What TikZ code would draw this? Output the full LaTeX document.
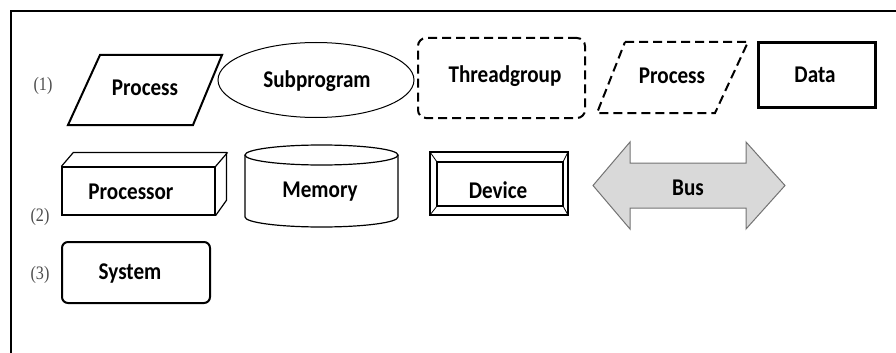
\documentclass[tikz,border=0pt]{standalone}
\usepackage{fontspec}
\setmainfont{Carlito}[FakeStretch=0.88]
\newfontfamily\rowfont{Liberation Serif}[FakeStretch=0.85]
\usetikzlibrary{shapes.geometric}

\begin{document}
\begin{tikzpicture}[x=1pt, y=-1pt,
  shape text/.style={font=\fontsize{24}{24}\selectfont\bfseries, inner sep=0pt},
  row label/.style={font=\fontsize{19}{19}\selectfont\rowfont, text=black!70},
  solid box/.style={draw, line width=2pt},
  dash box/.style={draw, line width=2pt, dash pattern=on 9pt off 5pt}]

  \useasboundingbox (0,0) rectangle (896,353);
  % frame
  \draw[line width=1.5pt] (11,353) -- (11,11) -- (896,11);

  % row 1
  \node[row label] (r1) at (43,86) {(1)};
  \draw[solid box, line join=miter] (100,55) -- (222,55) -- (193,125) -- (68,125) -- cycle;
  \node[shape text] (proc) at (145,88) {Process};
  \node[ellipse, draw, line width=1pt, minimum width=196pt, minimum height=75pt,
        inner sep=0pt] (sub) at (316,80) {};
  \node[shape text] (subt) at (317,81) {Subprogram};
  \node[dash box, rounded corners=8pt, minimum width=167pt, minimum height=80pt] (thg) at (501.5,78) {};
  \node[shape text] (thgt) at (505,76) {Threadgroup};
  \draw[dash box] (625,42) -- (748,42) -- (715,113) -- (597,113) -- cycle;
  \node[shape text] (vproc) at (672,76) {Process};
  \node[draw, line width=3pt, minimum width=117pt, minimum height=64pt] (data) at (816.5,75) {};
  \node[shape text] (datat) at (815,75) {Data};

  % row 2
  \node[row label] (r2) at (40,217) {(2)};
  \node[draw, line width=1.2pt, minimum width=153pt, minimum height=48pt] (cpu) at (138.5,191) {};
  \node[shape text] (cput) at (131,192) {Processor};
  \draw[line width=1.2pt] (cpu.north west) -- ++(12,-14) -- ++(153,0) -- ++(0,48) -- (cpu.south east);
  \draw[line width=1.2pt] (cpu.north east) -- ++(12,-14);

  \draw[line width=1.2pt] (245,155) -- (245,217) arc[start angle=180, end angle=0, x radius=76.5, y radius=10] -- (398,155);
  \draw[line width=1.2pt] (321.5,155) ellipse[x radius=76.5, y radius=10];
  \node[shape text] (memt) at (320,192) {Memory};

  \node[draw, line width=1.5pt, minimum width=138pt, minimum height=63pt] (dev) at (499,183.5) {};
  \draw[line width=1.5pt] (437,162) rectangle (563,206);
  \draw[line width=0.8pt] (430,152) -- (437,162) (568,152) -- (563,162)
                           (430,215) -- (437,206) (568,215) -- (563,206);
  \node[shape text] (devt) at (498,190) {Device};

  \draw[fill=black!15, draw=black!55, line width=1pt]
    (593,185.5) -- (630,142) -- (630,163) -- (746,163) -- (746,142) -- (785,185.5)
    -- (746,229) -- (746,208) -- (630,208) -- (630,229) -- cycle;
  \node[shape text] (bust) at (688,188) {Bus};

  % row 3
  \node[row label] (r3) at (40,275) {(3)};
  \node[solid box, rounded corners=6pt, minimum width=148pt, minimum height=61pt] (sys) at (136,272.5) {};
  \node[shape text] (syst) at (130,274) {System};
\end{tikzpicture}
\end{document}
